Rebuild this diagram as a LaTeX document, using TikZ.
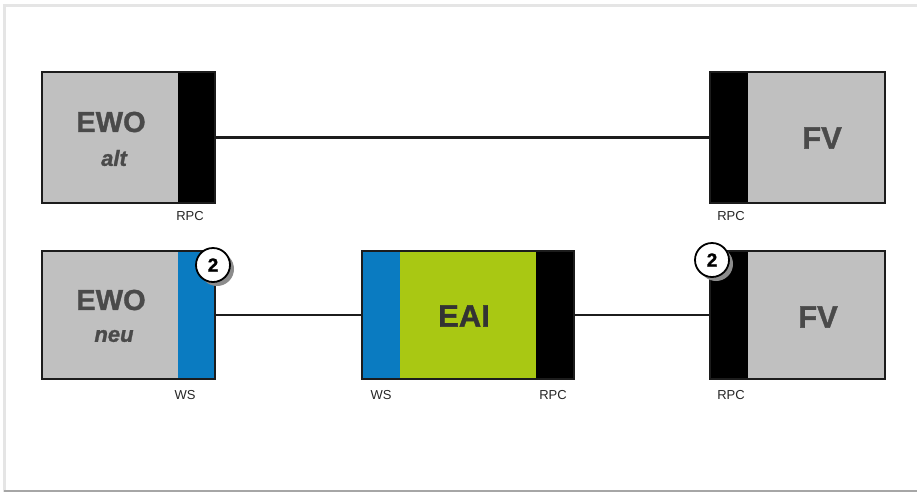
\documentclass[tikz,border=0pt]{standalone}
\usepackage{fontspec}
\setmainfont{Liberation Sans}
\newfontfamily\heavy[FakeBold=1.2]{Liberation Sans Bold}
\newfontfamily\heavyit[FakeBold=1.2]{Liberation Sans Bold Italic}
\definecolor{boxgray}{HTML}{C0C0C0}
\definecolor{txtgray}{HTML}{4A4A4A}
\definecolor{wsblue}{HTML}{0A7BC1}
\definecolor{eaigreen}{HTML}{A9C813}
\definecolor{edge}{HTML}{1C1C1C}
\tikzset{
  part/.style={rectangle, inner sep=0pt, outer sep=0pt, draw=none},
  outline/.style={rectangle, inner sep=0pt, outer sep=0pt, draw=edge, line width=2.2pt, fill=none},
  conn/.style={line width=2.6pt, draw=edge},
  big/.style={font=\fontsize{29}{29}\heavy, text=txtgray},
  sub/.style={font=\fontsize{22}{22}\heavyit, text=txtgray},
  lbl/.style={font=\fontsize{13}{13}\selectfont, text=black!85},
  num/.style={circle, draw=black, line width=1.8pt, fill=white, minimum size=34pt, inner sep=0pt, font=\fontsize{19}{19}\heavy},
  numshadow/.style={circle, fill=black!45, minimum size=34pt, inner sep=0pt, draw=none}
}
\begin{document}
\begin{tikzpicture}[x=1pt,y=-1pt]
\useasboundingbox (0,0) rectangle (917,493);
% frame
\fill[white] (0,0) rectangle (917,493);
\draw[black!10, line width=3pt] (4,492) -- (4,5) -- (920,5);
\draw[black!35, line width=1.5pt] (4,491) -- (920,491);
% --- top row ---
\node[part, fill=boxgray, minimum width=136, minimum height=131] (ewoA) at (110,137.5) {};
\node[part, fill=black, minimum width=37, minimum height=131] (rpcA) at (196.5,137.5) {};
\node[outline, minimum width=173, minimum height=131] (ewoAo) at (128.5,137.5) {};
\node[big] at (111,122) {EWO};
\node[sub] at (114,158) {alt};
\node[lbl] at (190,216) {RPC};

\node[part, fill=black, minimum width=38, minimum height=131] (rpcB) at (729,137.5) {};
\node[part, fill=boxgray, minimum width=137, minimum height=131] (fvA) at (816.5,137.5) {};
\node[outline, minimum width=175, minimum height=131] (fvAo) at (797.5,137.5) {};
\node[big, font=\fontsize{31}{31}\heavy] at (822,138) {FV};
\node[lbl] at (731,216) {RPC};

\draw[conn] (rpcA.east) -- (rpcB.west);

% --- bottom row ---
\node[part, fill=boxgray, minimum width=136, minimum height=128] (ewoB) at (110,315) {};
\node[part, fill=wsblue, minimum width=37, minimum height=128] (wsA) at (196.5,315) {};
\node[outline, minimum width=173, minimum height=128] (ewoBo) at (128.5,315) {};
\node[big] at (111,300) {EWO};
\node[sub] at (114,336) {neu};
\node[lbl] at (185,395) {WS};

\node[part, fill=wsblue, minimum width=38, minimum height=128] (wsB) at (381,315) {};
\node[part, fill=eaigreen, minimum width=136, minimum height=128] (eai) at (468,315) {};
\node[part, fill=black, minimum width=38, minimum height=128] (rpcC) at (555,315) {};
\node[outline, minimum width=212, minimum height=128] (eaio) at (468,315) {};
\node[big, text=black!80, font=\fontsize{31}{31}\heavy] at (464,316) {EAI};
\node[lbl] at (381,395) {WS};
\node[lbl] at (553,395) {RPC};

\node[part, fill=black, minimum width=38, minimum height=128] (rpcD) at (729,315) {};
\node[part, fill=boxgray, minimum width=137, minimum height=128] (fvB) at (816.5,315) {};
\node[outline, minimum width=175, minimum height=128] (fvBo) at (797.5,315) {};
\node[big, font=\fontsize{31}{31}\heavy] at (818,317) {FV};
\node[lbl] at (731,395) {RPC};

\draw[conn] (ewoBo.east) -- (eaio.west);
\draw[conn] (eaio.east) -- (fvBo.west);

% badges
\node[numshadow] (s1) at (217,269) {};
\node[num] (n1) at (213,265) {2};
\node[numshadow] (s2) at (716,264) {};
\node[num] (n2) at (712,260) {2};
\end{tikzpicture}
\end{document}
